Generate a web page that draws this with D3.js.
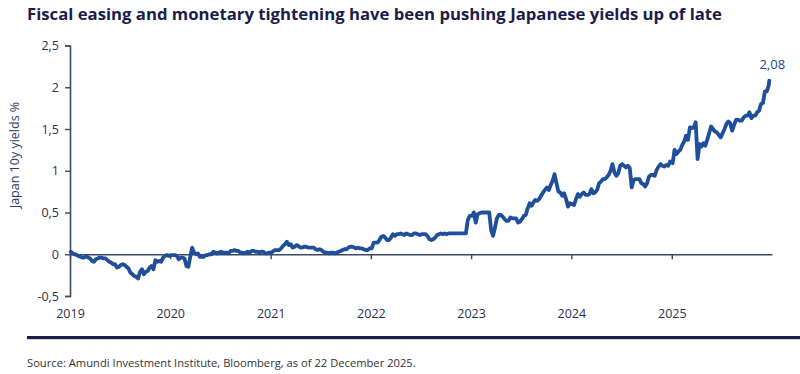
<!DOCTYPE html>
<html><head><meta charset="utf-8">
<script src="https://cdn.jsdelivr.net/npm/d3@7"></script>
<style>
html,body{margin:0;padding:0;background:#fff;}
svg{display:block;font-family:"Open Sans","Noto Sans",sans-serif;}
</style></head>
<body><svg id="c" width="800" height="374"></svg>
<script>
// Weekly Japan 10y JGB yields (%), first point ~Jan 4 of each year, 7-day step
const y2019 = [0.03,0.01,0.00,-0.01, -0.02,-0.03,-0.04,-0.04, -0.02,-0.04,-0.05,-0.08,-0.09, -0.06,-0.05,-0.04,-0.04, -0.05,-0.05,-0.07,-0.09,-0.10, -0.12,-0.12,-0.16,-0.15, -0.13,-0.12,-0.13,-0.15, -0.17,-0.22,-0.24,-0.26,-0.27, -0.29,-0.21,-0.18,-0.24, -0.21,-0.20,-0.16,-0.14, -0.18,-0.07,-0.09,-0.08,-0.09, -0.04,-0.02,-0.01,-0.02];
const y2020 = [-0.01,-0.01,-0.01,-0.02, -0.06,-0.04,-0.04,-0.05,-0.14, -0.15,-0.03,0.08,0.02, 0.00,0.01,-0.03,-0.03, -0.03,-0.01,-0.01,0.00,0.00, 0.03,0.02,0.01,0.02, 0.03,0.02,0.02,0.02, 0.01,0.04,0.04,0.05,0.04, 0.04,0.02,0.02,0.01, 0.02,0.03,0.02,0.04,0.04, 0.03,0.03,0.02,0.03, 0.03,0.01,0.01,0.02];
const y2021 = [0.02,0.04,0.05,0.05, 0.05,0.07,0.10,0.12, 0.15,0.11,0.12,0.08,0.09, 0.11,0.10,0.08,0.08, 0.09,0.09,0.08,0.08,0.08, 0.08,0.06,0.05,0.06, 0.05,0.03,0.02,0.02, 0.01,0.02,0.02,0.01,0.02, 0.03,0.04,0.05,0.06, 0.06,0.08,0.09,0.09, 0.08,0.07,0.08,0.07,0.07, 0.06,0.05,0.05,0.07];
const y2022 = [0.07,0.14,0.14,0.14, 0.17,0.21,0.22,0.20, 0.17,0.17,0.20,0.24,0.22, 0.24,0.24,0.25,0.24, 0.23,0.25,0.24,0.23,0.23, 0.25,0.25,0.24,0.23, 0.24,0.24,0.24,0.22, 0.18,0.17,0.18,0.20,0.23, 0.24,0.25,0.24,0.25, 0.24,0.25,0.25,0.25, 0.25,0.25,0.25,0.25,0.25, 0.25,0.25,0.41,0.46];
const y2023 = [0.46,0.50,0.38,0.48, 0.49,0.50,0.50,0.50, 0.50,0.50,0.29,0.22,0.32, 0.43,0.47,0.47,0.45, 0.42,0.40,0.40,0.44,0.43, 0.43,0.43,0.38,0.39, 0.42,0.46,0.47,0.55, 0.61,0.58,0.62,0.65,0.64, 0.66,0.70,0.74,0.77, 0.80,0.77,0.83,0.88, 0.96,0.85,0.75,0.74,0.70, 0.73,0.66,0.57,0.61];
const y2024 = [0.60,0.59,0.66,0.72, 0.69,0.72,0.74,0.71,0.71, 0.72,0.78,0.73,0.74, 0.77,0.85,0.87,0.90, 0.90,0.92,0.95,1.00,1.08, 0.98,0.94,0.97,1.06, 1.08,1.06,1.04,1.06, 1.03,0.80,0.89,0.90,0.90, 0.90,0.85,0.84,0.81, 0.85,0.93,0.95,0.95,0.94, 1.01,1.05,1.08,1.06, 1.05,1.07,1.06,1.11];
const y2025 = [1.09,1.25,1.20,1.23, 1.25,1.31,1.35,1.42, 1.37,1.52,1.51,1.52,1.58, 1.14,1.32,1.29,1.33, 1.30,1.37,1.45,1.53,1.50, 1.47,1.46,1.43,1.40, 1.45,1.50,1.56,1.59, 1.57,1.48,1.55,1.61,1.61, 1.60,1.60,1.64,1.66, 1.66,1.70,1.63,1.66, 1.66,1.70,1.72,1.80,1.81, 1.95,1.95,2.02];
const years = [2019,2020,2021,2022,2023,2024,2025];
const yearSeries = [y2019,y2020,y2021,y2022,y2023,y2024,y2025];
const lastDate = "2025-12-22";
const lastValue = 2.08;
const yTicks = [-0.5,0,0.5,1,1.5,2,2.5];
const xTickYears = [2019,2020,2021,2022,2023,2024,2025];
const titleText = "Fiscal easing and monetary tightening have been pushing Japanese yields up of late";
const yLabel = "Japan 10y yields %";
const sourceText = "Source: Amundi Investment Institute, Bloomberg, as of 22 December 2025.";

const data = [];
years.forEach((yr, k) => {
  const start = new Date(yr, 0, 4);
  yearSeries[k].forEach((v, i) => data.push({date: d3.timeDay.offset(start, i * 7), value: v}));
});
data.push({date: d3.timeParse("%Y-%m-%d")(lastDate), value: lastValue});

const svg = d3.select("#c");
const x = d3.scaleTime().domain([new Date(2019,0,1), new Date(2026,0,1)]).range([70, 772]);
const y = d3.scaleLinear().domain([-0.5, 2.5]).range([296, 45.5]);
const fmt = v => String(v).replace(".", ",");
const axisCol = "#3b4866";
const textCol = "#2a2f4a";

// title
svg.append("text").attr("x", 27).attr("y", 19.5)
  .attr("font-size", 16.5).attr("font-weight", 700).attr("fill", "#1c1c4c")
  .attr("textLength", 695).attr("lengthAdjust", "spacingAndGlyphs")
  .text(titleText);

// y axis
const gy = svg.append("g").attr("transform", "translate(70,0)")
  .call(d3.axisLeft(y).tickValues(yTicks).tickFormat(fmt).tickSize(5).tickPadding(6));
gy.select(".domain").attr("stroke", axisCol).attr("stroke-width", 1.6);
gy.selectAll(".tick line").attr("stroke", axisCol).attr("stroke-width", 1.4);
gy.selectAll(".tick text").attr("fill", textCol).attr("font-size", 12.5)
  .attr("font-family", "'Open Sans','Noto Sans',sans-serif");

// x axis along zero line
const gx = svg.append("g").attr("transform", `translate(0,${y(0)})`)
  .call(d3.axisBottom(x).tickValues(xTickYears.map(v => new Date(v,0,1))).tickFormat(d3.timeFormat("%Y")).tickSize(5).tickSizeOuter(0).tickPadding(0));
gx.select(".domain").attr("stroke", axisCol).attr("stroke-width", 1.6);
gx.selectAll(".tick line").attr("stroke", axisCol).attr("stroke-width", 1.4);
gx.selectAll(".tick text").attr("fill", textCol).attr("font-size", 12.5)
  .attr("font-family", "'Open Sans','Noto Sans',sans-serif")
  .attr("dy", null).attr("y", y(-0.5) - y(0) + 22);

// y label
svg.append("text").attr("transform", "translate(19,155) rotate(-90)")
  .attr("text-anchor", "middle").attr("font-size", 12.5).attr("fill", "#2c3a66")
  .text(yLabel);

// line
const line = d3.line().x(d => x(d.date)).y(d => y(d.value)).curve(d3.curveLinear);
svg.append("path").datum(data).attr("d", line)
  .attr("fill", "none").attr("stroke", "#1f4f9a").attr("stroke-width", 3.8)
  .attr("stroke-linejoin", "round").attr("stroke-linecap", "round");

// end label
const last = data[data.length - 1];
svg.append("text").attr("x", x(last.date) + 3).attr("y", y(last.value) - 12)
  .attr("text-anchor", "middle").attr("font-size", 13).attr("fill", "#23478a")
  .text(fmt(last.value));

// bottom rule
svg.append("rect").attr("x", 27).attr("y", 336).attr("width", 773).attr("height", 3.2).attr("fill", "#1d1f4b");

// source
svg.append("text").attr("x", 27).attr("y", 367).attr("font-size", 11.2).attr("fill", "#333")
  .text(sourceText);
</script>
</body></html>
